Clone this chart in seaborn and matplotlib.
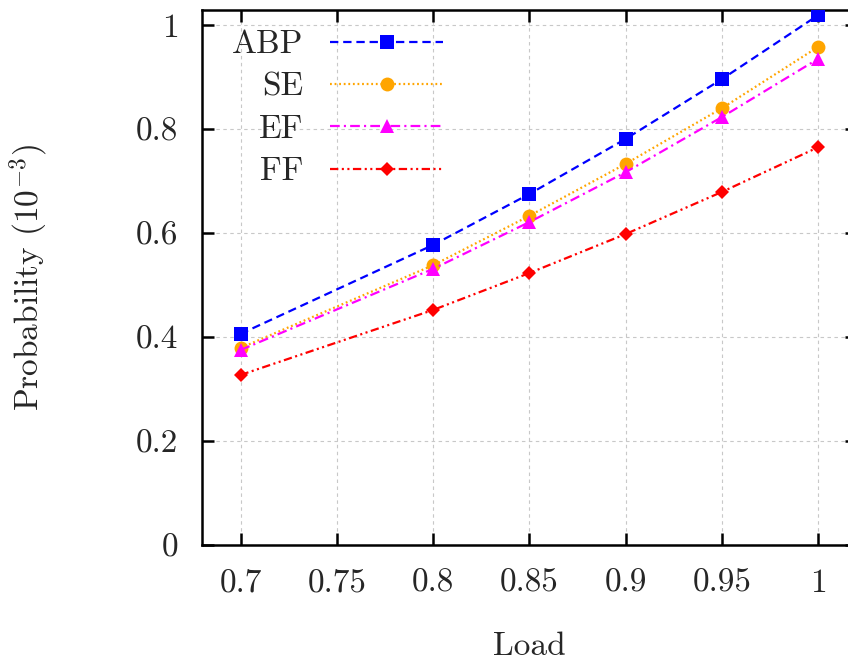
import matplotlib
matplotlib.use("Agg")
import matplotlib.pyplot as plt
from matplotlib.ticker import FuncFormatter
import seaborn as sns
import pandas as pd

# Blocking probability (x 10^-3) versus offered load for four schemes
load = [0.7, 0.8, 0.85, 0.9, 0.95, 1.0]
abp = [0.406, 0.577, 0.675, 0.781, 0.896, 1.019]
se = [0.379, 0.538, 0.633, 0.733, 0.840, 0.958]
ef = [0.375, 0.531, 0.621, 0.717, 0.823, 0.935]
ff = [0.327, 0.452, 0.523, 0.598, 0.679, 0.765]

x_ticks = [0.7, 0.75, 0.8, 0.85, 0.9, 0.95, 1.0]
y_ticks = [0, 0.2, 0.4, 0.6, 0.8, 1.0]

sns.set_theme(style="ticks")
plt.rcParams.update({
    "font.family": ["cmr10", "DejaVu Serif"],
    "mathtext.fontset": "cm",
    "axes.unicode_minus": False,
    "axes.formatter.use_mathtext": True,
    "lines.scale_dashes": False,
    "font.size": 24,
})

fig = plt.figure(figsize=(8.48, 6.61), dpi=100)
ax = fig.add_axes([0.2382, 0.1755, 0.772, 0.8094])

series = [
    ("ABP", abp, "#0000ff", "s", 9.5, (0, (6, 3.5))),
    ("SE", se, "#ffa500", "o", 10, (0, (1.3, 2.0))),
    ("EF", ef, "#ff00ff", "^", 9.5, (0, (7, 3, 1.5, 3))),
    ("FF", ff, "#ff0000", "D", 7, (0, (6, 2.5, 1.5, 2.5, 1.5, 2.5))),
]

for name, vals, color, marker, ms, ls in series:
    df = pd.DataFrame({"Load": load, "Probability": vals})
    sns.lineplot(data=df, x="Load", y="Probability", ax=ax, color=color,
                 marker=marker, markersize=ms, markeredgewidth=0,
                 linestyle=ls, linewidth=1.6, label=name, zorder=3)

ax.set_xlim(0.68, 1.02)
ax.set_ylim(0, 1.029)
ax.set_xticks(x_ticks)
ax.set_yticks(y_ticks)
fmt = FuncFormatter(lambda v, p: f"{v:g}")
ax.xaxis.set_major_formatter(fmt)
ax.yaxis.set_major_formatter(fmt)

ax.grid(True, color="#c8c8c8", linestyle=(0, (2.5, 2.5)), linewidth=0.8, zorder=0)
for s in ax.spines.values():
    s.set_visible(True)
    s.set_linewidth(1.8)
    s.set_color("black")

ax.tick_params(axis="both", which="major", direction="in", length=8.5, width=1.8,
               top=True, right=True, labelsize=24, color="black")
ax.tick_params(axis="x", pad=17)
ax.tick_params(axis="y", pad=17)

ax.set_xlabel("Load", fontsize=24, labelpad=25)
ax.set_ylabel(r"Probability $(10^{-3})$", fontsize=24, labelpad=62)

leg = ax.legend(loc="upper left", bbox_to_anchor=(0.015, 1.0), markerfirst=False,
                frameon=False, fontsize=24, handlelength=3.4, handletextpad=0.8,
                labelspacing=0.39, borderaxespad=0.3, borderpad=0.3)

fig.savefig("out.png", dpi=100)
